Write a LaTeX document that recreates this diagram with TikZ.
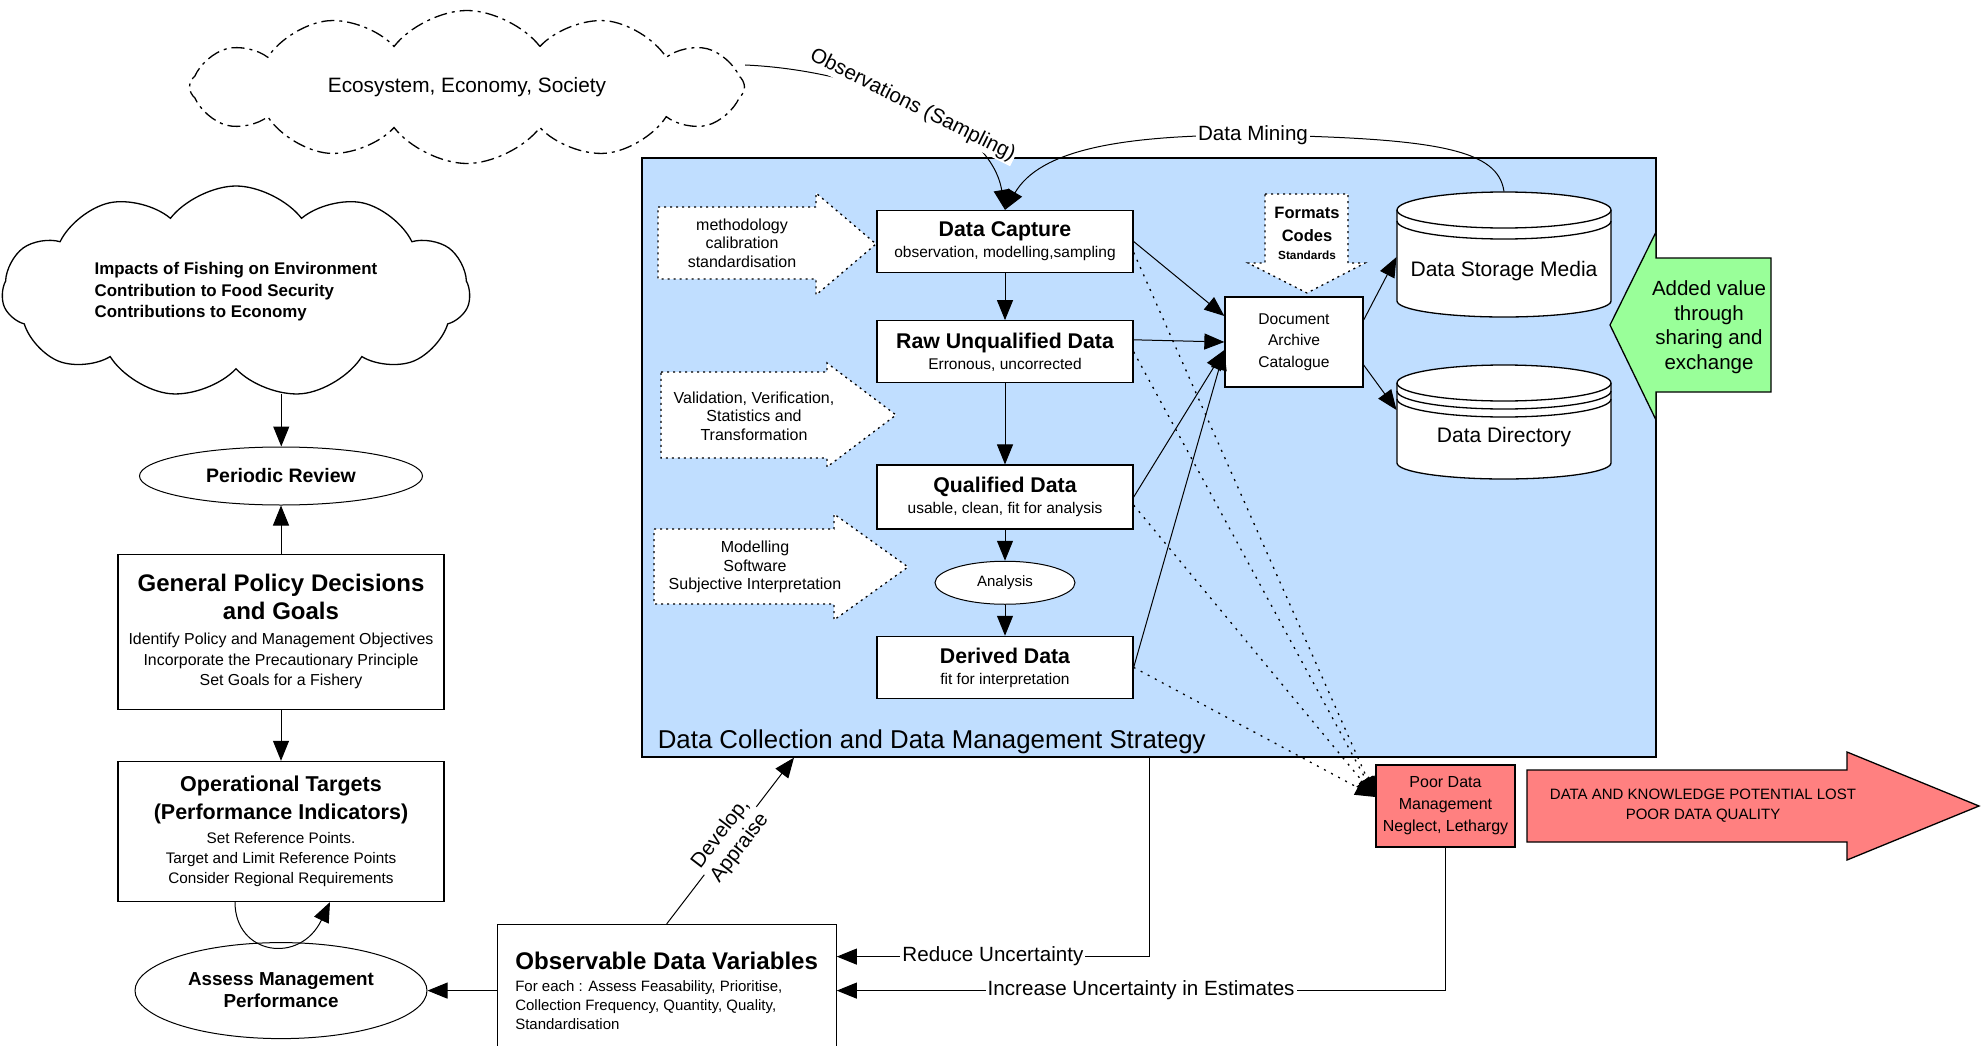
\documentclass[tikz,border=0pt]{standalone}
\usepackage{fontspec}
\setmainfont{Liberation Sans}
\usetikzlibrary{arrows.meta,shapes.geometric,shapes.symbols,positioning}

\definecolor{dcmblue}{RGB}{192,222,255}
\definecolor{gaingreen}{RGB}{153,255,153}
\definecolor{lossred}{RGB}{255,128,128}

\newcommand{\boxtitle}[2]{{\bfseries\fontsize{#1}{#1}\selectfont #2}}
\newcommand{\drum}[3]{% storage cylinder: centre x, top ellipse y, bottom ellipse y
\filldraw[fill=white, line width=1.3pt] (#1-107,#2) -- (#1-107,#3) arc[start angle=180, end angle=0, x radius=107, y radius=16] -- (#1+107,#2) arc[start angle=0, end angle=-180, x radius=107, y radius=18] -- cycle;
\draw[line width=1.3pt] (#1-107,#2) arc[start angle=180, end angle=0, x radius=107, y radius=18];
}

\tikzset{>={Triangle[length=20pt,width=16pt]}, % large solid heads as in the original
stage/.style={draw, fill=white, line width=1.3pt, minimum width=256pt, minimum height=62pt, align=center, font=\fontsize{15.5}{21}\selectfont}, % boxes of the data chain
policybox/.style={draw, fill=white, line width=1.3pt, minimum width=326pt, align=center}, % boxes of the policy chain
oval/.style={draw, fill=white, ellipse, inner sep=0pt, align=center}, % ellipse nodes
world/.style={draw, cloud, cloud ignores aspect, cloud puff arc=105, line width=1.3pt}, % the two clouds
hint/.style={draw, fill=white, line width=1.3pt, dash pattern=on 2pt off 4pt}, % dotted block arrows
hinttext/.style={align=center, font=\fontsize{16}{18.5}\selectfont}, % the text in them
lapse/.style={->, line width=1.3pt, dash pattern=on 2pt off 6pt}, % dotted lines to poor management
tag/.style={fill=white, inner sep=2pt, font=\fontsize{20.6}{24}\selectfont}, % labels on connectors
}

\begin{document}
\begin{tikzpicture}[x=1pt, y=-1pt, line width=1pt]
\useasboundingbox (0,0) rectangle (1984,1046);

% the outside world
\node[world, dash pattern=on 13pt off 5pt on 3pt off 5pt, cloud puffs=12, minimum width=555pt, minimum height=153pt, font=\fontsize{20.8}{24}\selectfont] (eco) at (467,87) {Ecosystem, Economy, Society};
\node[world, cloud puffs=11, minimum width=468pt, minimum height=212pt, align=left, font=\bfseries\fontsize{16.9}{21.5}\selectfont] (impact) at (236,292) {Impacts of Fishing on Environment\\Contribution to Food Security\\Contributions to Economy};

% strategy frame
\node[draw, fill=dcmblue, line width=1.3pt, minimum width=1014pt, minimum height=599pt] (dcm) at (1149,457.5) {};
\node[anchor=base west, inner sep=0pt, font=\fontsize{25.8}{28}\selectfont] (dcmname) at ([xshift=16pt, yshift=9pt]dcm.south west) {Data Collection and Data Management Strategy};

% dotted hints
\draw[hint] (658,207) -- (816,207) -- (816,193) -- (876,244) -- (816,295) -- (816,279) -- (658,279) -- cycle;
\draw[hint] (661,372) -- (827,372) -- (827,363) -- (896,415) -- (827,467) -- (827,458) -- (661,458) -- cycle;
\draw[hint] (654,529) -- (834,529) -- (834,514) -- (908,567) -- (834,620) -- (834,604) -- (654,604) -- cycle;
\draw[hint] (1265,194) -- (1348,194) -- (1348,263) -- (1365,263) -- (1307,293) -- (1248,263) -- (1265,263) -- cycle;
\node[hinttext] (method) at (742,243) {methodology\\calibration\\standardisation};
\node[hinttext] (checks) at (754,416) {Validation, Verification,\\Statistics and\\Transformation};
\node[hinttext] (tools) at (755,567) {Modelling\\Software\\Subjective Interpretation};
\node[align=center, font=\fontsize{11.8}{18}\selectfont] (formats) at (1307,233) {\boxtitle{16.5}{Formats}\\[5pt]\boxtitle{16.5}{Codes}\\\textbf{Standards}};

% data chain
\node[stage] (cap) at (1005,241.5) {\boxtitle{21.3}{Data Capture}\\observation, modelling,sampling};
\node[stage, below=47pt of cap] (raw) {\boxtitle{21.3}{Raw Unqualified Data}\\Erronous, uncorrected};
\node[stage, below=81pt of raw, minimum height=64pt] (qual) {\boxtitle{21.3}{Qualified Data}\\usable, clean, fit for analysis};
\node[oval, below=31pt of qual, minimum width=140pt, minimum height=43pt, font=\fontsize{15}{18}\selectfont] (ana) {Analysis};
\node[stage, below=31pt of ana] (der) {\boxtitle{21.3}{Derived Data}\\fit for interpretation};

% archive and storage
\node[stage, minimum width=138pt, minimum height=90pt, font=\fontsize{15.6}{21.5}\selectfont] (doc) at (1294,342) {Document\\Archive\\Catalogue};
\drum{1504}{210}{301}
\draw[line width=1.3pt] (1397,221) arc[start angle=180, end angle=0, x radius=107, y radius=18];
\drum{1504}{383}{463}
\draw[line width=1.3pt] (1397,391) arc[start angle=180, end angle=0, x radius=107, y radius=18] (1397,399) arc[start angle=180, end angle=0, x radius=107, y radius=18];
\node[minimum width=214pt, minimum height=158pt, font=\fontsize{21}{24}\selectfont] (store) at (1504,271) {Data Storage Media};
\node[minimum width=214pt, minimum height=144pt, font=\fontsize{21}{24}\selectfont] (dir) at (1504,437) {Data Directory};

% value and loss
\draw[line width=1.3pt, fill=gaingreen] (1771,258) -- (1771,392) -- (1656,392) -- (1656,420) -- (1610,325) -- (1656,232) -- (1656,258) -- cycle;
\node[align=center, font=\fontsize{20.5}{24.5}\selectfont] (gain) at (1709,327) {Added value\\through\\sharing and\\exchange};
\node[stage, fill=lossred, minimum width=139pt, minimum height=82pt, font=\fontsize{16}{22}\selectfont] (poor) at (1445.5,806) {Poor Data\\Management\\Neglect, Lethargy};
\draw[line width=1.3pt, fill=lossred] (1527,770) -- (1847,770) -- (1847,752) -- (1979,806) -- (1847,860) -- (1847,842) -- (1527,842) -- cycle;
\node[align=center, font=\fontsize{15}{20}\selectfont] (loss) at (1703,806) {DATA AND KNOWLEDGE POTENTIAL LOST\\POOR DATA QUALITY};

% policy chain
\node[oval, minimum width=283pt, minimum height=58pt, font=\bfseries\fontsize{19.5}{22}\selectfont] (review) at (281,476) {Periodic Review};
\node[policybox, below=48pt of review, minimum height=155pt, font=\fontsize{15.9}{20}\selectfont] (policy) {\boxtitle{24}{General Policy Decisions}\\[4.5pt]\boxtitle{24}{and Goals}\\[5pt]Identify Policy and Management Objectives\\[1pt]Incorporate the Precautionary Principle\\Set Goals for a Fishery};
\node[policybox, below=51pt of policy, minimum height=140pt, font=\fontsize{15.3}{20}\selectfont] (op) {\boxtitle{21.5}{Operational Targets}\\[6.8pt]\boxtitle{21.5}{(Performance Indicators)}\\[4pt]Set Reference Points.\\Target and Limit Reference Points\\Consider Regional Requirements};
\node[oval, below=40pt of op, minimum width=292pt, minimum height=96pt, font=\bfseries\fontsize{18.8}{22}\selectfont] (assess) {Assess Management\\Performance};
\node[policybox, right=69pt of assess, minimum width=339pt, minimum height=132pt, align=left, font=\fontsize{15}{19}\selectfont] (obs) {\boxtitle{24.1}{Observable Data Variables}\\[3pt]For each : Assess Feasability, Prioritise,\\Collection Frequency, Quantity, Quality,\\Standardisation};

% connectors, left side
\draw[->] (impact.-66) -- (impact.-66 |- review.north);
\draw (policy) edge[->] (review) (policy) edge[->] (op);
\draw[->] ([xshift=-46pt]op.south) .. controls (235,955) and (300,965) .. ([xshift=49pt]op.south);
\draw[->] (obs) -- (assess);
\draw[->] (obs.north) -- node[tag, sloped, align=center] (develop) {Develop,\\Appraise} ([xshift=-355pt]dcm.south);
\draw[->] (dcm.south) |- node[tag, pos=0.75] (reduce) {Reduce Uncertainty} ([yshift=34pt]obs.east);
\draw[->] (poor.south) |- node[tag, pos=0.75] (increase) {Increase Uncertainty in Estimates} (obs.east);

% connectors, data chain
\draw[->] ([yshift=22pt]eco.east) .. controls (860,70) and (990,120) .. (cap.north) node[tag, pos=0.5, sloped, inner sep=1pt] (sampling) {Observations (Sampling)};
\draw[->] (store.north) .. controls (1498,150) and (1440,138) .. (1253,135) node[tag] (mining) {Data Mining} .. controls (1120,135) and (1040,150) .. (cap.north);
\draw (cap) edge[->] (raw) (raw) edge[->] (qual) (qual) edge[->] (ana) (ana) edge[->] (der);
\draw[->] (cap.east) -- ([yshift=26pt]doc.west);
\draw[->] ([yshift=12pt]raw.east) -- (doc.west);
\draw[->] (qual.east) -- ([yshift=-8pt]doc.west);
\draw[->] (der.east) -- ([yshift=-8pt]doc.west);
\draw[->] ([yshift=22pt]doc.east) -- ([yshift=14pt]store.west);
\draw[->] ([yshift=-23pt]doc.east) -- ([yshift=27pt]dir.west);
\draw[lapse] ([yshift=-11pt]cap.east) -- ([yshift=9pt]poor.west);
\draw[lapse] (raw.east) -- ([yshift=9pt]poor.west);
\draw[lapse] ([yshift=-8pt]qual.east) -- ([yshift=9pt]poor.west);
\draw[lapse] (der.east) -- ([yshift=9pt]poor.west);
\end{tikzpicture}
\end{document}
